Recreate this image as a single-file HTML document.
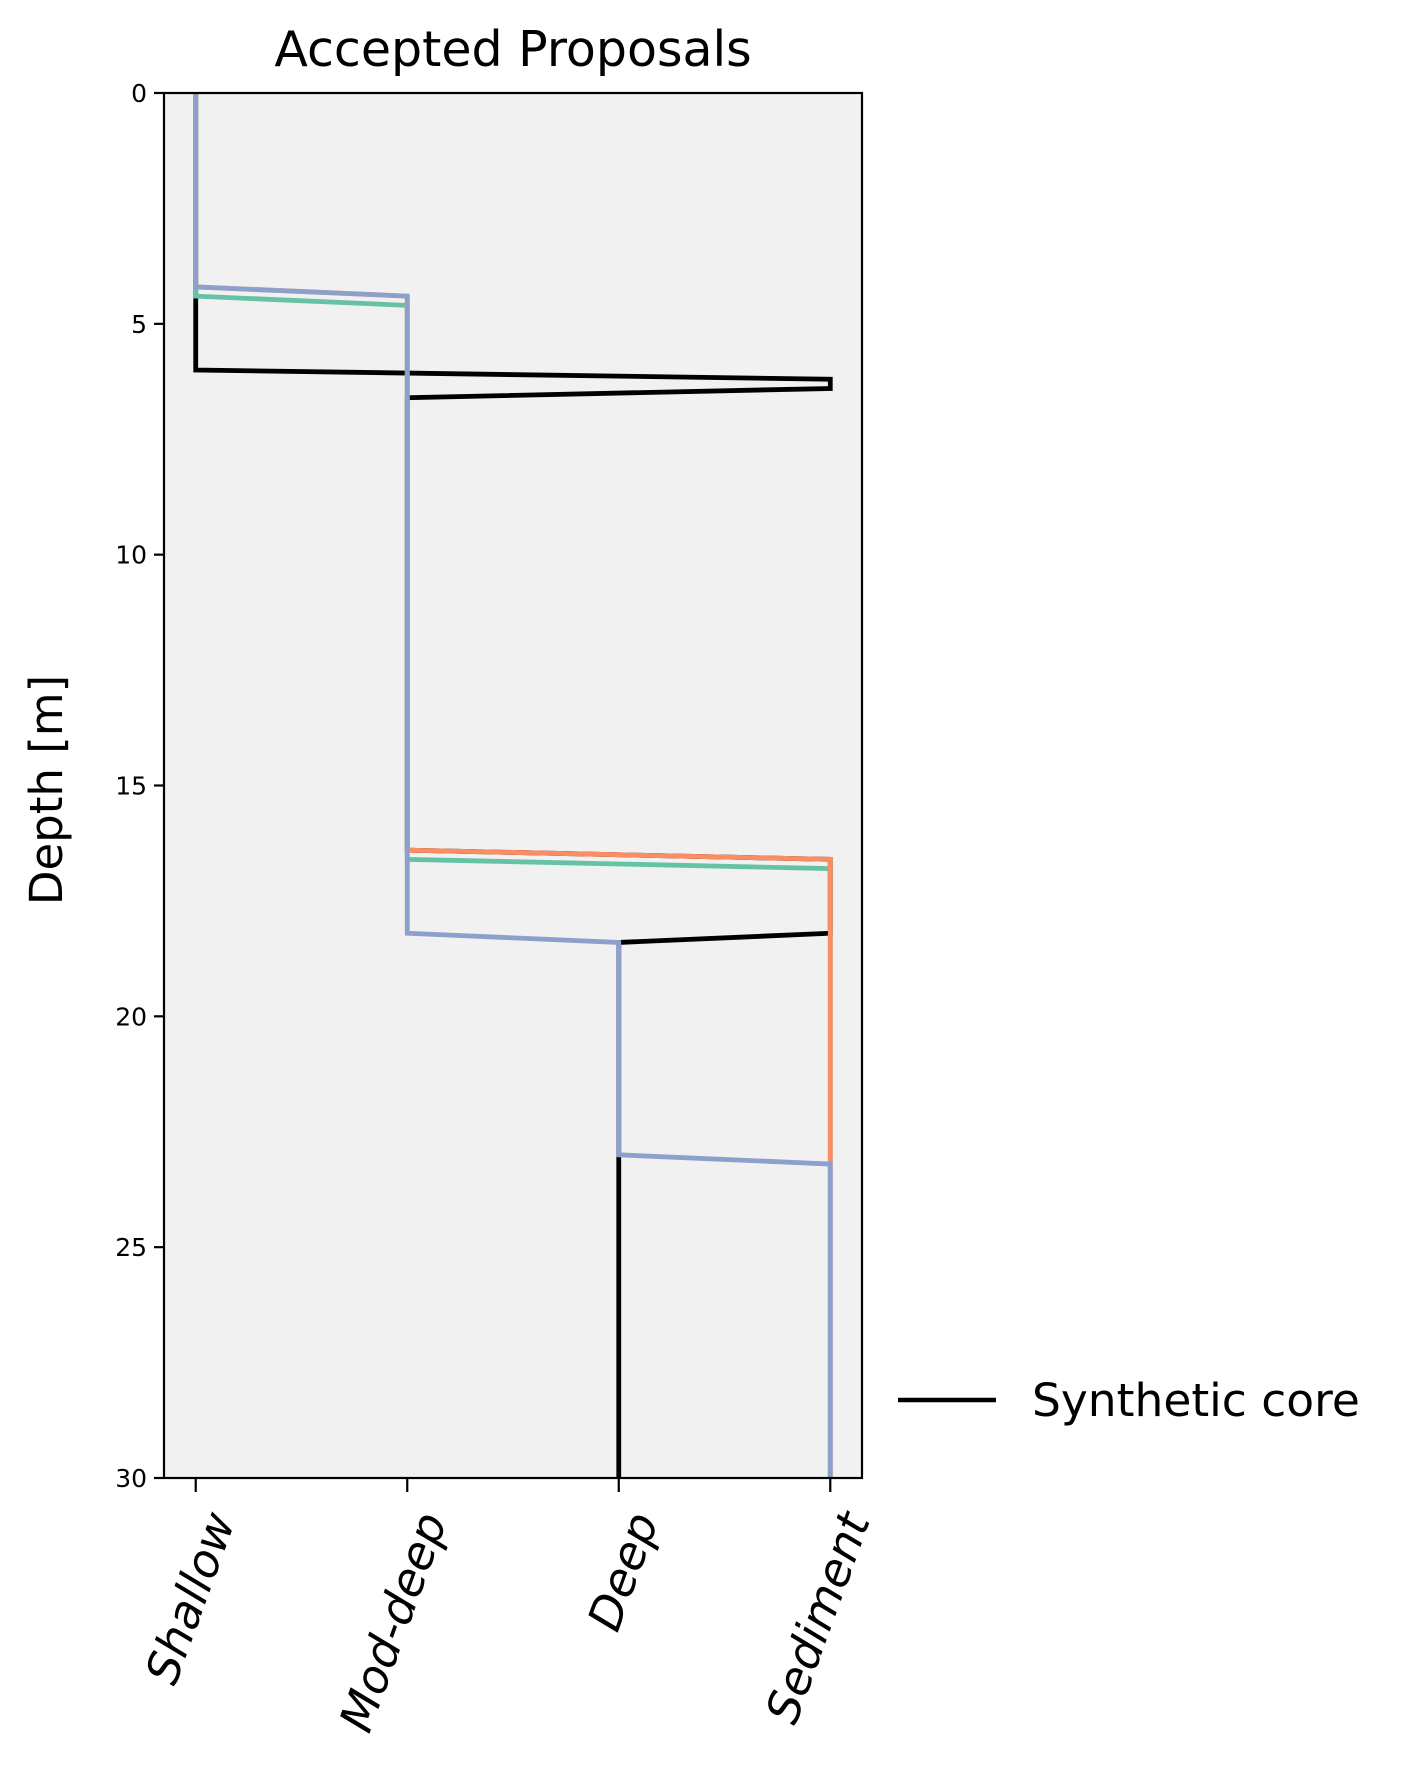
<!DOCTYPE html>
<html><head><meta charset="utf-8"><style>
body{margin:0;background:#fff}
svg{display:block;font-family:"DejaVu Sans","Liberation Sans",sans-serif}
</style></head><body>
<svg id="chart" width="1410" height="1767"></svg>
<script>
const categories=["Shallow","Mod-deep","Deep","Sediment"];
const yTicks=[0,5,10,15,20,25,30];
const synthDepth=[0,6.0,6.2,6.4,6.6,16.4,16.6,18.2,18.4,30];
const synthFacies=[0,0,3,3,1,1,3,3,2,2];
const greenDepth=[0,4.4,4.6,16.6,16.8,30];
const greenFacies=[0,0,1,1,3,3];
const orangeDepth=[0,4.2,4.4,16.4,16.6,23.2,30];
const orangeFacies=[0,0,1,1,3,3,3];
const blueDepth=[0,4.2,4.4,18.2,18.4,23.0,23.2,30];
const blueFacies=[0,0,1,1,2,2,3,3];

const NS="http://www.w3.org/2000/svg";
const svg=document.getElementById('chart');
const L=164,R=862,T=93,B=1478;
const x=v=>L+(v+0.15)/3.3*(R-L);
const y=v=>T+v/30*(B-T);
function mk(tag,attrs,parent){const e=document.createElementNS(NS,tag);for(const k in attrs)e.setAttribute(k,attrs[k]);(parent||svg).appendChild(e);return e;}

const bg=mk('rect',{x:L,y:T,width:R-L,height:B-T,fill:'#f1f1f1'});



function series(d,f,color,name){
  const pts=d.map((v,i)=>x(f[i])+','+y(v)).join(' ');
  const p=mk('polyline',{points:pts,fill:'none',stroke:color,'stroke-width':4.8,'stroke-linejoin':'miter'});
  
  
}
series(synthDepth,synthFacies,'#000','synthetic-core-line');
series(greenDepth,greenFacies,'#66c2a5','proposal-green-line');
series(orangeDepth,orangeFacies,'#fc8d62','proposal-orange-line');
series(blueDepth,blueFacies,'#8da0cb','proposal-blue-line');

const fr=mk('rect',{x:L,y:T,width:R-L,height:B-T,fill:'none',stroke:'#000','stroke-width':2.2});



yTicks.forEach(v=>{
  const t=mk('line',{x1:L-10,x2:L,y1:y(v),y2:y(v),stroke:'#000','stroke-width':2.2});
  
  
  const tx=mk('text',{x:L-17,y:y(v)+9,'text-anchor':'end','font-size':25});
  tx.textContent=v;
  
  
});
categories.forEach((c,i)=>{
  const t=mk('line',{x1:x(i),x2:x(i),y1:B,y2:B+14,stroke:'#000','stroke-width':2.2});
  
  
  const tx=mk('text',{x:0,y:0,'text-anchor':'end','font-size':46,'font-style':'italic',transform:`translate(${x(i)+40},${B+42}) rotate(-70)`});
  tx.textContent=c;
  
  
});
const title=mk('text',{x:(L+R)/2,y:66,'text-anchor':'middle','font-size':49});
title.textContent='Accepted Proposals';


const yl=mk('text',{x:0,y:0,'text-anchor':'middle','font-size':45,transform:`translate(62,790) rotate(-90)`});
yl.textContent='Depth [m]';


const lg=mk('g',{});


mk('line',{x1:898,x2:996,y1:1400,y2:1400,stroke:'#000','stroke-width':4.5},lg);
const lt=mk('text',{x:1032,y:1416,'font-size':45.5},lg);
lt.textContent='Synthetic core';
</script>
</body></html>
